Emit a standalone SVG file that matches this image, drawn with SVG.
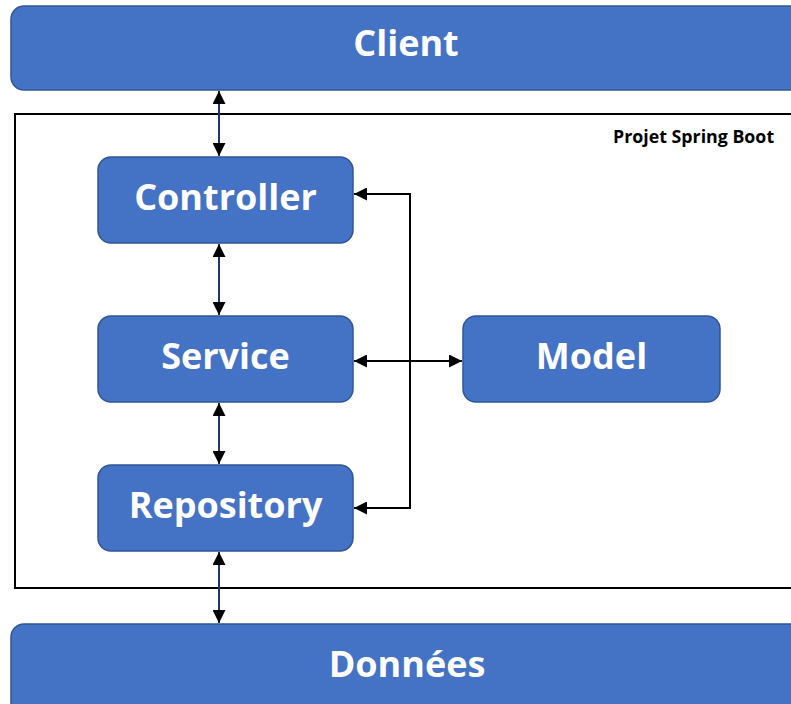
<svg xmlns="http://www.w3.org/2000/svg" width="791" height="704" viewBox="0 0 791 704">
  <style>
    .box { fill: #4472C4; stroke: #2F5597; stroke-width: 1.5; }
    .lbl { fill: #FFFFFF; font-family: "Open Sans", "Noto Sans", "DejaVu Sans", sans-serif; font-weight: bold; text-anchor: middle; font-size: 36px; }
    .frame { fill: none; stroke: #000000; stroke-width: 2; }
    .title { fill: #000000; font-family: "Open Sans", "Noto Sans", "DejaVu Sans", sans-serif; font-weight: bold; font-size: 17.8px; }
    .link { fill: none; stroke: #000000; stroke-width: 2; }
    .vlink { fill: none; stroke: #1F3864; stroke-width: 2; }
  </style>
  <defs>
    <marker id="arrow" viewBox="0 0 10 10" refX="10" refY="5" markerWidth="6.5" markerHeight="6.5" markerUnits="strokeWidth" orient="auto-start-reverse">
      <path d="M0,0 L10,5 L0,10 Z" fill="#000000"/>
    </marker>
  </defs>

  <rect width="791" height="704" fill="#FFFFFF"/>

  <!-- Spring Boot project boundary -->
  <g id="projet">
    <rect class="frame" x="15" y="114" width="800" height="474"/>
    <text class="title" x="613" y="143">Projet Spring Boot</text>
  </g>

  <g id="client">
    <rect class="box" x="11" y="6" width="800" height="84" rx="13"/>
    <text class="lbl" x="406" y="56" font-size="31.5">Client</text>
  </g>

  <g id="controller">
    <rect class="box" x="98" y="157" width="255" height="86" rx="13"/>
    <text class="lbl" x="225.5" y="210">Controller</text>
  </g>

  <g id="service">
    <rect class="box" x="98" y="316" width="255" height="86" rx="13"/>
    <text class="lbl" x="225.5" y="369">Service</text>
  </g>

  <g id="repository">
    <rect class="box" x="98" y="465" width="255" height="86" rx="13"/>
    <text class="lbl" x="225.5" y="518">Repository</text>
  </g>

  <g id="model">
    <rect class="box" x="463" y="316" width="257" height="86" rx="13"/>
    <text class="lbl" x="591.5" y="369" font-size="37">Model</text>
  </g>

  <g id="donnees">
    <rect class="box" x="11" y="624" width="800" height="100" rx="13"/>
    <text class="lbl" x="407" y="677">Données</text>
  </g>

  <g id="connectors">
    <line class="vlink" x1="219" y1="91" x2="219" y2="156" marker-start="url(#arrow)" marker-end="url(#arrow)"/>
    <line class="vlink" x1="219" y1="244" x2="219" y2="315" marker-start="url(#arrow)" marker-end="url(#arrow)"/>
    <line class="vlink" x1="219" y1="403" x2="219" y2="464" marker-start="url(#arrow)" marker-end="url(#arrow)"/>
    <line class="vlink" x1="219" y1="552" x2="219" y2="623" marker-start="url(#arrow)" marker-end="url(#arrow)"/>
    <line class="link" x1="354" y1="361" x2="462" y2="361" marker-start="url(#arrow)" marker-end="url(#arrow)"/>
    <polyline class="link" points="410,361 410,194 354,194" marker-end="url(#arrow)"/>
    <polyline class="link" points="410,361 410,508 354,508" marker-end="url(#arrow)"/>
  </g>
</svg>
